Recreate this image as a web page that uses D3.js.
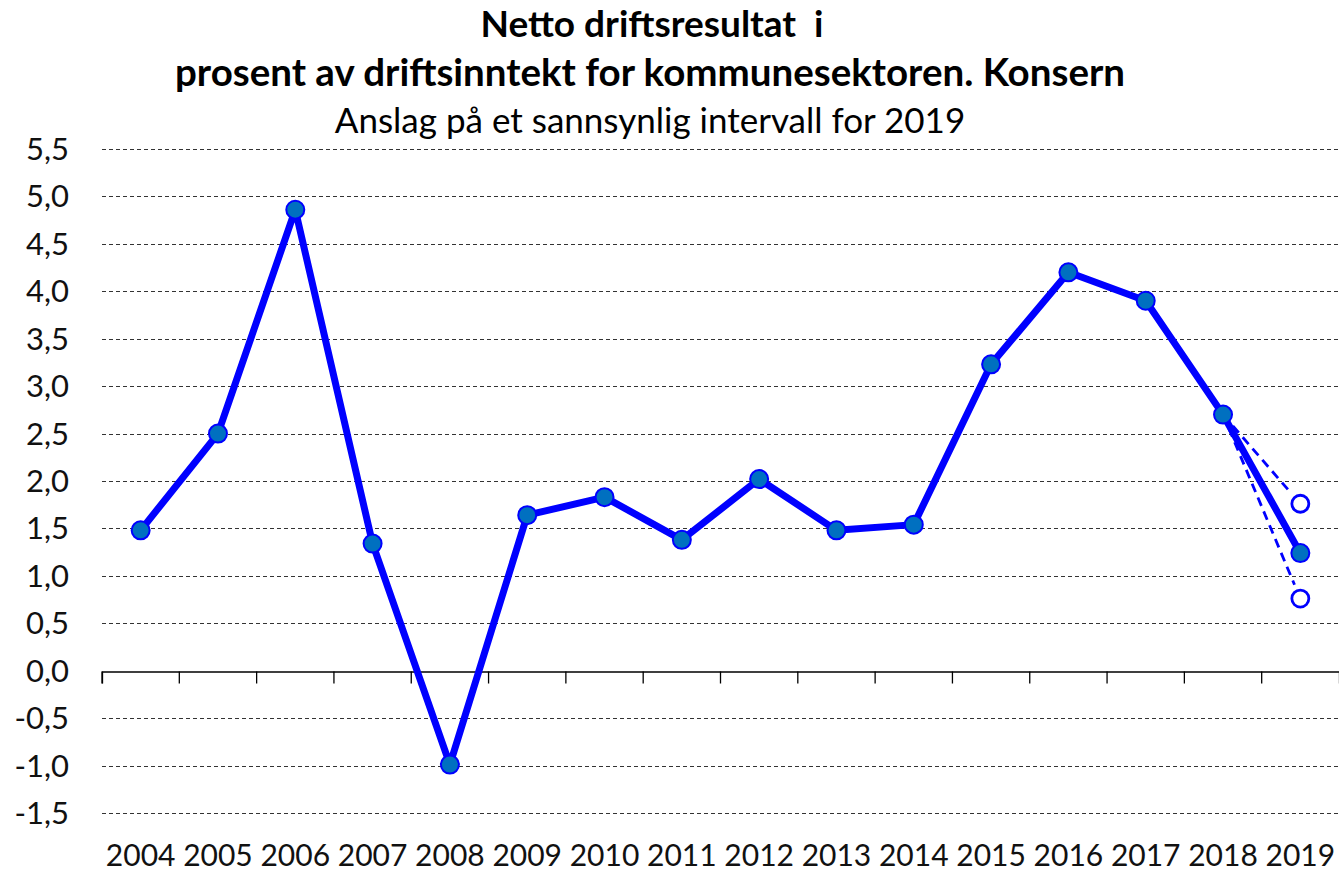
<!DOCTYPE html>
<html>
<head>
<meta charset="utf-8">
<script src="https://cdn.jsdelivr.net/npm/d3@7"></script>
<style>
  body { margin: 0; background: #fff; }
  svg { display: block; font-family: Lato, "Open Sans", sans-serif; }
</style>
</head>
<body>
<svg id="chart"></svg>
<script>
var years = ["2004", "2005", "2006", "2007", "2008", "2009", "2010", "2011",
    "2012", "2013", "2014", "2015", "2016", "2017", "2018", "2019"];
var values = [1.48, 2.50, 4.86, 1.34, -0.99, 1.64, 1.83, 1.38,
    2.02, 1.48, 1.54, 3.23, 4.20, 3.90, 2.70, 1.24];
var upper = [["2018", 2.70], ["2019", 1.76]];
var lower = [["2018", 2.70], ["2019", 0.76]];
var yTicks = [-1.5, -1.0, -0.5, 0.0, 0.5, 1.0, 1.5, 2.0, 2.5, 3.0, 3.5, 4.0, 4.5, 5.0, 5.5];

var width = 1339,
    height = 875;

var svg = d3.select("#chart")
    .attr("width", width)
    .attr("height", height);

var x = d3.scaleBand()
    .domain(years)
    .range([102, 1339]);

var y = d3.scaleLinear()
    .domain([-1.5, 5.5])
    .range([813, 149]);

var fmt = function(d) {
    return d3.format(".1f")(d).replace(".", ",").replace("−", "-");
};

// titles
svg.append("text")
    .attr("x", 652).attr("y", 37)
    .attr("text-anchor", "middle")
    .style("font-size", "37px").style("font-weight", "bold")
    .attr("xml:space", "preserve")
    .text("Netto driftsresultat  i");
svg.append("text")
    .attr("x", 650).attr("y", 86)
    .attr("text-anchor", "middle")
    .style("font-size", "38.5px").style("font-weight", "bold")
    .text("prosent av driftsinntekt for kommunesektoren. Konsern");
svg.append("text")
    .attr("x", 650).attr("y", 133)
    .attr("text-anchor", "middle")
    .style("font-size", "35px")
    .text("Anslag på et sannsynlig intervall for 2019");

// grid lines
svg.append("g").selectAll("line")
    .data(yTicks.filter(function(d) { return d != 0; }))
    .enter()
    .append("line")
    .attr("x1", 102).attr("x2", 1339)
    .attr("y1", function(d) { return Math.round(y(d)) + 0.5; })
    .attr("y2", function(d) { return Math.round(y(d)) + 0.5; })
    .attr("stroke", "#333")
    .attr("stroke-width", 1)
    .attr("stroke-dasharray", "4,3");

// y labels
svg.append("g").selectAll("text")
    .data(yTicks)
    .enter()
    .append("text")
    .attr("x", 69)
    .attr("y", function(d) { return y(d) + 11; })
    .attr("text-anchor", "end")
    .style("font-size", "31px")
    .attr("fill", "#111")
    .text(fmt);

// x axis at zero
var axis = d3.axisBottom(x).tickSize(12).tickFormat("");
var gx = svg.append("g")
    .attr("transform", "translate(0," + (Math.round(y(0)) + 0.5) + ")")
    .call(axis);
gx.select(".domain").attr("stroke", "#000").attr("stroke-width", 1.3);
gx.selectAll(".tick line")
    .attr("transform", function() { return "translate(" + (-x.bandwidth() / 2) + ",0)"; })
    .attr("stroke", "#000").attr("stroke-width", 1.3);

// x labels
svg.append("g").selectAll("text")
    .data(years)
    .enter()
    .append("text")
    .attr("x", function(d) { return x(d) + x.bandwidth() / 2; })
    .attr("y", 866)
    .attr("text-anchor", "middle")
    .style("font-size", "30px")
    .attr("fill", "#111")
    .text(function(d) { return d; });

var cx = function(d) { return x(d) + x.bandwidth() / 2; };

// interval dashed lines (stop short of the hollow circle)
[upper, lower].forEach(function(pair) {
    var x0 = cx(pair[0][0]), y0 = y(pair[0][1]);
    var x1 = cx(pair[1][0]), y1 = y(pair[1][1]);
    var len = Math.hypot(x1 - x0, y1 - y0);
    var k = (len - 15) / len;
    svg.append("line")
        .attr("x1", x0).attr("y1", y0)
        .attr("x2", x0 + (x1 - x0) * k).attr("y2", y0 + (y1 - y0) * k)
        .attr("stroke", "#0000ff")
        .attr("stroke-width", 2.8)
        .attr("stroke-dasharray", "9,6");
    svg.append("circle")
        .attr("cx", x1).attr("cy", y1).attr("r", 8.5)
        .attr("fill", "#fff")
        .attr("stroke", "#0000ff")
        .attr("stroke-width", 2.8);
});

// main line
var line = d3.line()
    .x(function(d, i) { return cx(years[i]); })
    .y(function(d) { return y(d); });

svg.append("path")
    .datum(values)
    .attr("d", line)
    .attr("fill", "none")
    .attr("stroke", "#0000ff")
    .attr("stroke-width", 7)
    .attr("stroke-linejoin", "round");

svg.append("g").selectAll("circle")
    .data(values)
    .enter()
    .append("circle")
    .attr("cx", function(d, i) { return cx(years[i]); })
    .attr("cy", function(d) { return y(d); })
    .attr("r", 9)
    .attr("fill", "#0070c0")
    .attr("stroke", "#0000ff")
    .attr("stroke-width", 2);
</script>
</body>
</html>
